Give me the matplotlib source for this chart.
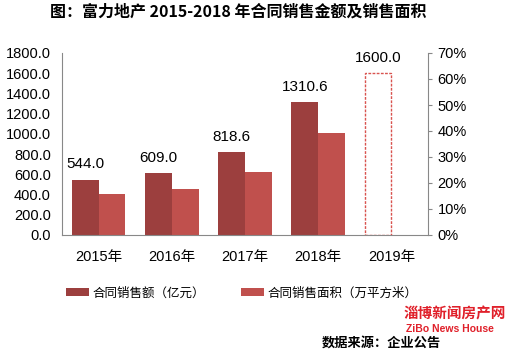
import matplotlib.pyplot as plt
import numpy as np

plt.rcParams['font.family'] = ['Liberation Sans', 'Noto Sans CJK SC']

years = ['2015年', '2016年', '2017年', '2018年', '2019年']
sales_amount = [544.0, 609.0, 818.6, 1310.6]      # 亿元
sales_area = [405, 458, 625, 1010]                # 万平方米
target_2019 = 1600.0

dark = '#9C3F3E'
light = '#C0504D'
axis_grey = '#888888'
cjk = ['Noto Sans CJK SC', 'Liberation Sans']

fig = plt.figure(figsize=(5.17, 3.57), dpi=100)
ax = fig.add_axes([62 / 517, 1 - 235 / 357, 366 / 517, 182 / 357])

x = np.arange(len(years)) + 0.5
w = 0.365

ax.bar(x[:4] - w / 2, sales_amount, w, color=dark, label='合同销售额（亿元）')
ax.bar(x[:4] + w / 2, sales_area, w, color=light, label='合同销售面积（万平方米）')
ax.bar(x[4] - w / 2, target_2019, w, facecolor='none', edgecolor='#D9534F',
       linestyle=(0, (2, 1)), linewidth=1.0)

for xi, v in zip(x[:4] - w / 2, sales_amount):
    ax.text(xi, v + 85, f'{v:.1f}', ha='center', va='bottom', fontsize=11)
ax.text(x[4] - w / 2, target_2019 + 85, f'{target_2019:.1f}', ha='center',
        va='bottom', fontsize=11)

ax.set_xlim(0, 5)
ax.set_ylim(0, 1800)
ax.set_yticks(np.arange(0, 1801, 200))
ax.set_yticklabels([f'{v:.1f}' for v in np.arange(0, 1801, 200)], fontsize=10.5)
ax.set_xticks(x)
ax.set_xticklabels(years, fontsize=10.5)
ax.tick_params(axis='y', length=0, pad=8)
ax.tick_params(axis='x', length=0, pad=11)

for s in ['top', 'right']:
    ax.spines[s].set_visible(False)
for s in ['left', 'bottom']:
    ax.spines[s].set_color(axis_grey)

ax2 = ax.twinx()
ax2.set_ylim(0, 0.70)
pct = np.arange(0, 0.71, 0.10)
ax2.set_yticks(pct)
ax2.set_yticklabels([f'{int(round(p * 100))}%' for p in pct], fontsize=10.5)
ax2.tick_params(axis='y', length=3, color=axis_grey, pad=4)
for s in ['top', 'left', 'bottom']:
    ax2.spines[s].set_visible(False)
ax2.spines['right'].set_color(axis_grey)

fig.text(238 / 517, 1 - 12 / 357, '图：富力地产 2015-2018 年合同销售金额及销售面积',
         ha='center', va='center', fontsize=11.5, fontweight='bold', family=cjk)

handles, labels = ax.get_legend_handles_labels()
fig.legend(handles, labels, loc='center', bbox_to_anchor=(242 / 517, 1 - 293 / 357),
           ncol=2, frameon=False, handlelength=1.8, handleheight=0.6,
           columnspacing=2.9, handletextpad=0.3, prop={'family': cjk, 'size': 9})

fig.text(322 / 517, 1 - 343 / 357, '数据来源：企业公告', ha='left', va='center',
         fontsize=9.5, fontweight='bold', family=cjk)
fig.text(404 / 517, 1 - 313 / 357, '淄博新闻房产网', ha='left', va='center',
         fontsize=10.5, fontweight='bold', color='#E0202A', family=cjk)
fig.text(406 / 517, 1 - 329 / 357, 'ZiBo News House', ha='left', va='center',
         fontsize=7.5, fontweight='bold', color='#E0202A')

fig.savefig('out.png', dpi=100)
